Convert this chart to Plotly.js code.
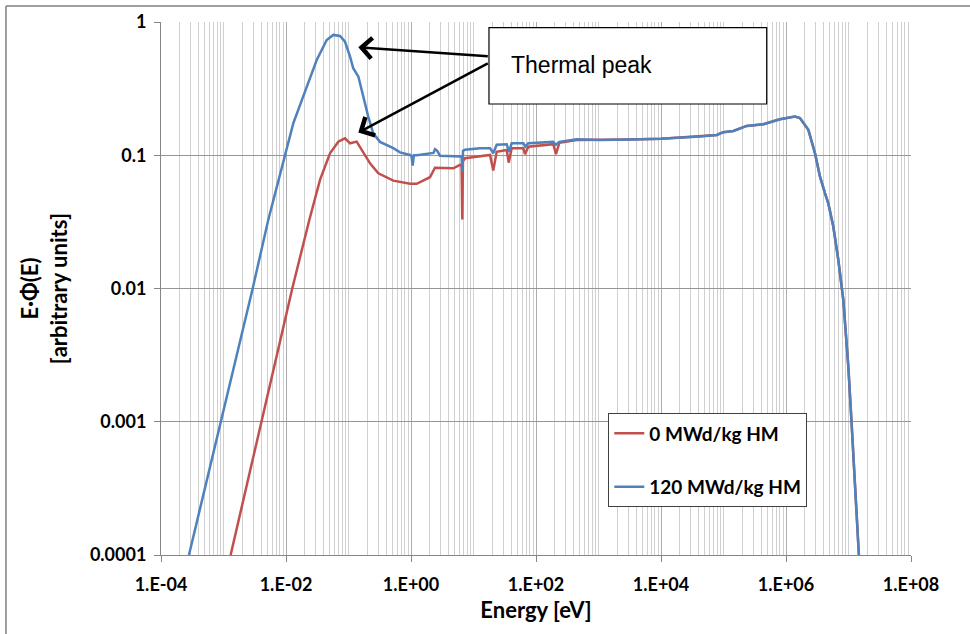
<!DOCTYPE html>
<html>
<head>
<meta charset="utf-8">
<script src="https://cdn.plot.ly/plotly-3.0.1.min.js"></script>
<style>
  html, body { margin: 0; padding: 0; background: #fff; }
  #chart { width: 970px; height: 634px; }
</style>
</head>
<body>
<div id="chart"></div>
<script>
// ---- Data ----
const seriesNames = ["0 MWd/kg HM", "120 MWd/kg HM"];

// 0 MWd/kg HM (thermal part, below ~1 keV)
const redE = [1.30e-3, 4.08e-3, 0.0126, 0.0236, 0.035, 0.0506, 0.0687, 0.0879, 0.106, 0.135, 0.173, 0.221, 0.30, 0.521, 0.964, 1.23, 2.01, 2.42, 4.75, 6.08, 6.45, 6.62, 6.78, 7.31, 18.4, 20.7, 23.5, 34.0, 36.6, 40.8, 62.7, 66.7, 75.3, 189, 209, 236, 448];
const redV = [1e-4, 1e-3, 0.01, 0.0327, 0.0653, 0.1035, 0.1265, 0.134, 0.123, 0.1265, 0.106, 0.087, 0.0732, 0.0645, 0.061, 0.061, 0.0684, 0.0807, 0.0798, 0.0846, 0.084, 0.033, 0.09, 0.0949, 0.1005, 0.0767, 0.106, 0.1096, 0.088, 0.113, 0.113, 0.1017, 0.116, 0.121, 0.102, 0.124, 0.13];

// 120 MWd/kg HM (thermal part, below ~1 keV)
const blueE = [2.8e-4, 9.1e-4, 2.93e-3, 5.2e-3, 6.67e-3, 9.1e-3, 0.0109, 0.0131, 0.01675, 0.0214, 0.0258, 0.031, 0.0448, 0.0571, 0.0731, 0.0879, 0.106, 0.119, 0.144, 0.173, 0.207, 0.249, 0.319, 0.521, 0.667, 0.964, 1.02, 1.064, 1.11, 1.23, 2.14, 2.29, 2.42, 2.63, 2.91, 6.08, 6.45, 6.62, 6.8, 7.31, 12.7, 18.4, 20.7, 23.5, 34.0, 37.0, 40.8, 62.7, 67.5, 75.3, 189, 207, 236, 448];
const blueV = [1.0e-4, 1.0e-3, 1.0e-2, 0.0327, 0.0519, 0.092, 0.126, 0.174, 0.238, 0.327, 0.412, 0.519, 0.733, 0.80, 0.785, 0.711, 0.55, 0.45, 0.389, 0.275, 0.195, 0.146, 0.126, 0.113, 0.105, 0.1005, 0.098, 0.0836, 0.100, 0.1, 0.1035, 0.104, 0.111, 0.108, 0.099, 0.098, 0.098, 0.075, 0.108, 0.11, 0.113, 0.113, 0.1035, 0.12, 0.121, 0.106, 0.123, 0.123, 0.116, 0.123, 0.126, 0.12, 0.126, 0.132];

// common epithermal / fast part (both curves coincide)
const tailE = [1057, 3162, 1e4, 4.2e4, 7.8e4, 9.9e4, 1.44e5, 2.35e5, 4.34e5, 8.0e5, 1.39e6, 1.67e6, 2.28e6, 2.91e6, 3.5e6, 4.2e6, 4.75e6, 5.71e6, 6.87e6, 8.26e6, 9.93e6, 1.12e7, 1.27e7, 1.47e7];
const tailV = [0.130, 0.131, 0.133, 0.138, 0.142, 0.149, 0.152, 0.166, 0.171, 0.186, 0.195, 0.19, 0.155, 0.1035, 0.069, 0.052, 0.0436, 0.0292, 0.0164, 0.0082, 0.0026, 0.00098, 0.000347, 0.0000977];

// tick labels
const xTickVals = [1e-4, 1e-2, 1e0, 1e2, 1e4, 1e6, 1e8];
const xTickText = ["1.E-04", "1.E-02", "1.E+00", "1.E+02", "1.E+04", "1.E+06", "1.E+08"];
const yTickVals = [1e-4, 1e-3, 1e-2, 1e-1, 1];
const yTickText = ["0.0001", "0.001", "0.01", "0.1", "1"];

const annotationText = "Thermal peak";
const xTitle = "<b>Energy [eV]</b>";
const yTitle = "<b>E·Φ(E)</b><br><b>[arbitrary units]</b>";

// ---- minor grid positions (2..9 per decade) ----
const minorX = [];
for (let d = -4; d < 8; d++) {
  for (let k = 1; k <= 9; k++) minorX.push(k * Math.pow(10, d));
}

const FONT = "Lato, 'Noto Sans', sans-serif";

const traces = [
  {
    x: redE.concat(tailE), y: redV.concat(tailV),
    type: "scatter", mode: "lines", name: seriesNames[0],
    line: { color: "#C0504D", width: 2.5 },
    legendgroup: "a"
  },
  {
    x: blueE.concat(tailE), y: blueV.concat(tailV),
    type: "scatter", mode: "lines", name: seriesNames[1],
    line: { color: "#4F81BD", width: 2.5 },
    legendgroup: "b"
  }
];

const layout = {
  width: 970, height: 634,
  margin: { l: 161, r: 59, t: 22, b: 79 },
  paper_bgcolor: "#ffffff", plot_bgcolor: "#ffffff",
  font: { family: FONT, size: 18, color: "#000" },
  showlegend: true,
  legend: {
    x: 0.5964, y: 0.2659, xanchor: "left", yanchor: "top",
    bgcolor: "#ffffff", bordercolor: "#404040", borderwidth: 1,
    font: { family: FONT, size: 19, color: "#000", weight: "bold" },
    traceorder: "grouped", tracegroupgap: 26
  },
  xaxis: {
    type: "log", range: [-4, 8],
    tickmode: "array", tickvals: xTickVals, ticktext: xTickText,
    ticks: "outside", ticklen: 6, tickcolor: "#868686",
    showline: true, linecolor: "#868686", linewidth: 1,
    showgrid: true, gridcolor: "#ADADAD", gridwidth: 1,
    minor: { tickmode: "array", tickvals: minorX, showgrid: true, gridcolor: "#D0D0D0", gridwidth: 1, ticks: "" },
    tickfont: { family: FONT, size: 18, color: "#000", weight: "bold" },
    ticklabelstandoff: 7,
    zeroline: false,
    title: { text: xTitle, font: { family: FONT, size: 22, color: "#000" }, standoff: 9 }
  },
  yaxis: {
    type: "log", range: [-4, 0],
    tickmode: "array", tickvals: yTickVals, ticktext: yTickText,
    ticks: "outside", ticklen: 6, tickcolor: "#868686",
    showline: true, linecolor: "#868686", linewidth: 1,
    showgrid: true, gridcolor: "#969696", gridwidth: 1,
    tickfont: { family: FONT, size: 18, color: "#000", weight: "bold" },
    ticklabelstandoff: 4,
    zeroline: false,
    title: { text: yTitle, font: { family: FONT, size: 22, color: "#000" }, standoff: 16 }
  },
  shapes: [
    // chart-area outline (left and top edges visible)
    { type: "line", xref: "paper", yref: "paper", x0: -0.2067, x1: 1.2, y0: 1.030, y1: 1.030, line: { color: "#7F7F7F", width: 1.5 } },
    { type: "line", xref: "paper", yref: "paper", x0: -0.2067, x1: -0.2067, y0: 1.030, y1: -0.2, line: { color: "#7F7F7F", width: 1.5 } },
    // "Thermal peak" text box
    { type: "rect", xref: "paper", yref: "paper", x0: 0.4373, x1: 0.8076, y0: 0.8462, y1: 0.9893,
      line: { color: "#000", width: 1.2 }, fillcolor: "#ffffff", layer: "above" }
  ],
  annotations: [
    { xref: "paper", yref: "paper", x: 0.4640, y: 0.9190, xanchor: "left", yanchor: "middle",
      text: annotationText, showarrow: false,
      font: { family: "'Liberation Sans', Arial, sans-serif", size: 23, color: "#000" } },
    { xref: "x", yref: "y", x: -0.843, y: -0.19, text: "", showarrow: true,
      axref: "pixel", ayref: "pixel", ax: 131, ay: 9,
      arrowhead: 4, arrowsize: 1.6, arrowwidth: 2.5, arrowcolor: "#000", standoff: 0 },
    { xref: "x", yref: "y", x: -0.843, y: -0.83, text: "", showarrow: true,
      axref: "pixel", ayref: "pixel", ax: 131, ay: -70,
      arrowhead: 4, arrowsize: 1.6, arrowwidth: 2.5, arrowcolor: "#000", standoff: 0 }
  ]
};

Plotly.newPlot("chart", traces, layout, { displayModeBar: false, staticPlot: true });
</script>
</body>
</html>
